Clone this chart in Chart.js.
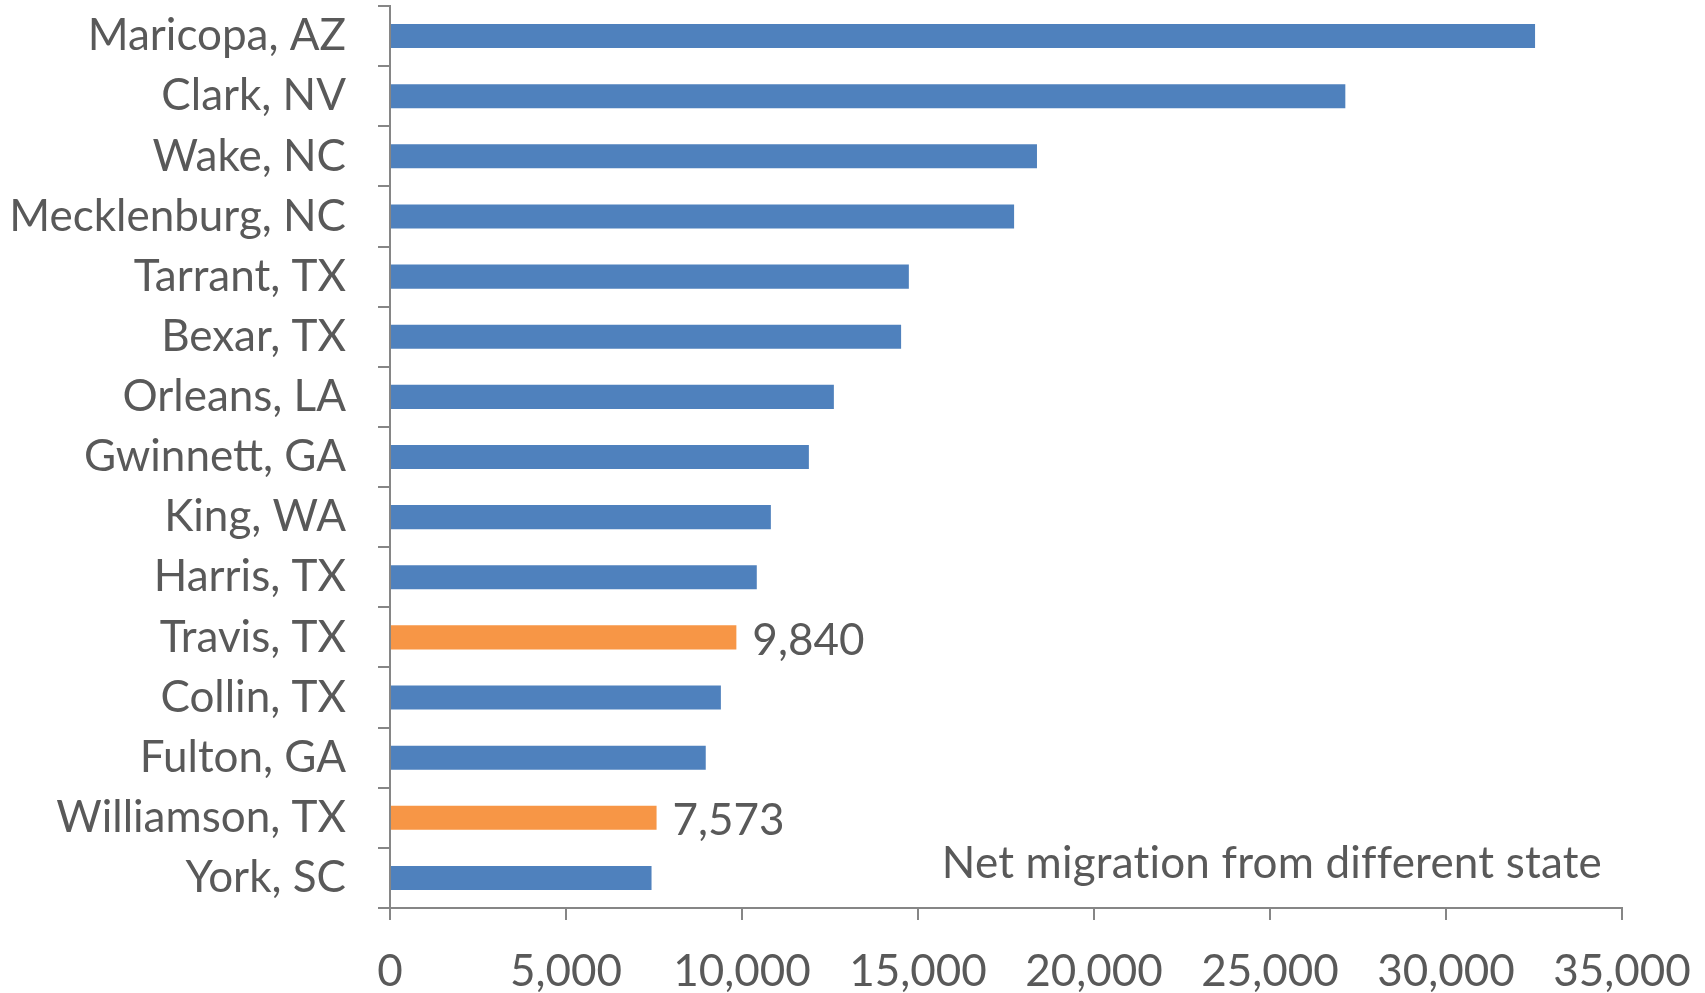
<!DOCTYPE html>
<html>
<head>
<meta charset="utf-8">
<script src="https://cdn.jsdelivr.net/npm/chart.js@4.4.1/dist/chart.umd.min.js"></script>
<style>
  html, body { margin: 0; padding: 0; background: #fff; }
  #wrap { width: 1705px; height: 993px; }
</style>
</head>
<body>
<div id="wrap"><canvas id="chart"></canvas></div>
<script>
// =========================
// DATA
// =========================
const counties = [
  "Maricopa, AZ", "Clark, NV", "Wake, NC", "Mecklenburg, NC", "Tarrant, TX",
  "Bexar, TX", "Orleans, LA", "Gwinnett, GA", "King, WA", "Harris, TX",
  "Travis, TX", "Collin, TX", "Fulton, GA", "Williamson, TX", "York, SC"
];
const netMigration = [
  32530, 27140, 18380, 17730, 14740,
  14520, 12610, 11900, 10820, 10420,
  9840, 9400, 8970, 7573, 7430
];
const highlighted = ["Travis, TX", "Williamson, TX"];
const xTicks = [0, 5000, 10000, 15000, 20000, 25000, 30000, 35000];
const noteText = "Net migration from different state";

// =========================
// STYLE
// =========================
const FONT = "Lato, 'Open Sans', sans-serif";
const TEXT = "#595959";
const AXIS = "#868686";
const BLUE = "#4F81BD";
const ORANGE = "#F79646";

const barColors = counties.map((c) => (highlighted.includes(c) ? ORANGE : BLUE));

// value labels for highlighted bars + note text
const labelsPlugin = {
  id: "labels",
  afterDatasetsDraw(chart) {
    const ctx = chart.ctx;
    const meta = chart.getDatasetMeta(0);
    ctx.save();
    ctx.fillStyle = TEXT;
    ctx.font = "44px " + FONT;
    ctx.textBaseline = "middle";
    ctx.textAlign = "left";
    meta.data.forEach((bar, i) => {
      if (!highlighted.includes(counties[i])) return;
      ctx.fillText(netMigration[i].toLocaleString("en-US"), bar.x + 16, bar.y + 3);
    });
    const area = chart.chartArea;
    ctx.textAlign = "right";
    // small letter spacing stops the "ti" ligature
    if ("letterSpacing" in ctx) ctx.letterSpacing = "0.2px";
    ctx.fillText(noteText, area.right - 20, area.bottom - 44);
    ctx.restore();
  },
};

new Chart(document.getElementById("chart"), {
  type: "bar",
  data: {
    labels: counties,
    datasets: [
      {
        data: netMigration,
        backgroundColor: barColors,
        borderWidth: 0,
        barPercentage: 0.8,
        categoryPercentage: 0.5,
      },
    ],
  },
  options: {
    indexAxis: "y",
    responsive: true,
    maintainAspectRatio: false,
    animation: false,
    layout: { padding: { top: 6, right: 83, left: 0, bottom: 0 } },
    plugins: { legend: { display: false }, tooltip: { enabled: false } },
    scales: {
      x: {
        min: 0,
        max: 35000,
        afterBuildTicks(scale) {
          scale.ticks = xTicks.map((v) => ({ value: v }));
        },
        afterFit(scale) {
          scale.height = 85;
          scale.paddingLeft = 0;
          scale.paddingRight = 0;
        },
        border: { color: AXIS, width: 2 },
        grid: { drawOnChartArea: false, color: AXIS, lineWidth: 2, tickLength: 12 },
        ticks: {
          color: TEXT,
          font: { family: FONT, size: 44 },
          padding: 25,
          maxRotation: 0,
          callback: (v) => v.toLocaleString("en-US"),
        },
      },
      y: {
        afterFit(scale) {
          scale.width = 390;
          scale.paddingTop = 0;
          scale.paddingBottom = 0;
        },
        border: { color: AXIS, width: 2 },
        grid: { drawOnChartArea: false, color: AXIS, lineWidth: 2, tickLength: 12, offset: true },
        ticks: {
          color: TEXT,
          font: { family: FONT, size: 44 },
          padding: 32,
        },
      },
    },
  },
  plugins: [labelsPlugin],
});
</script>
</body>
</html>
